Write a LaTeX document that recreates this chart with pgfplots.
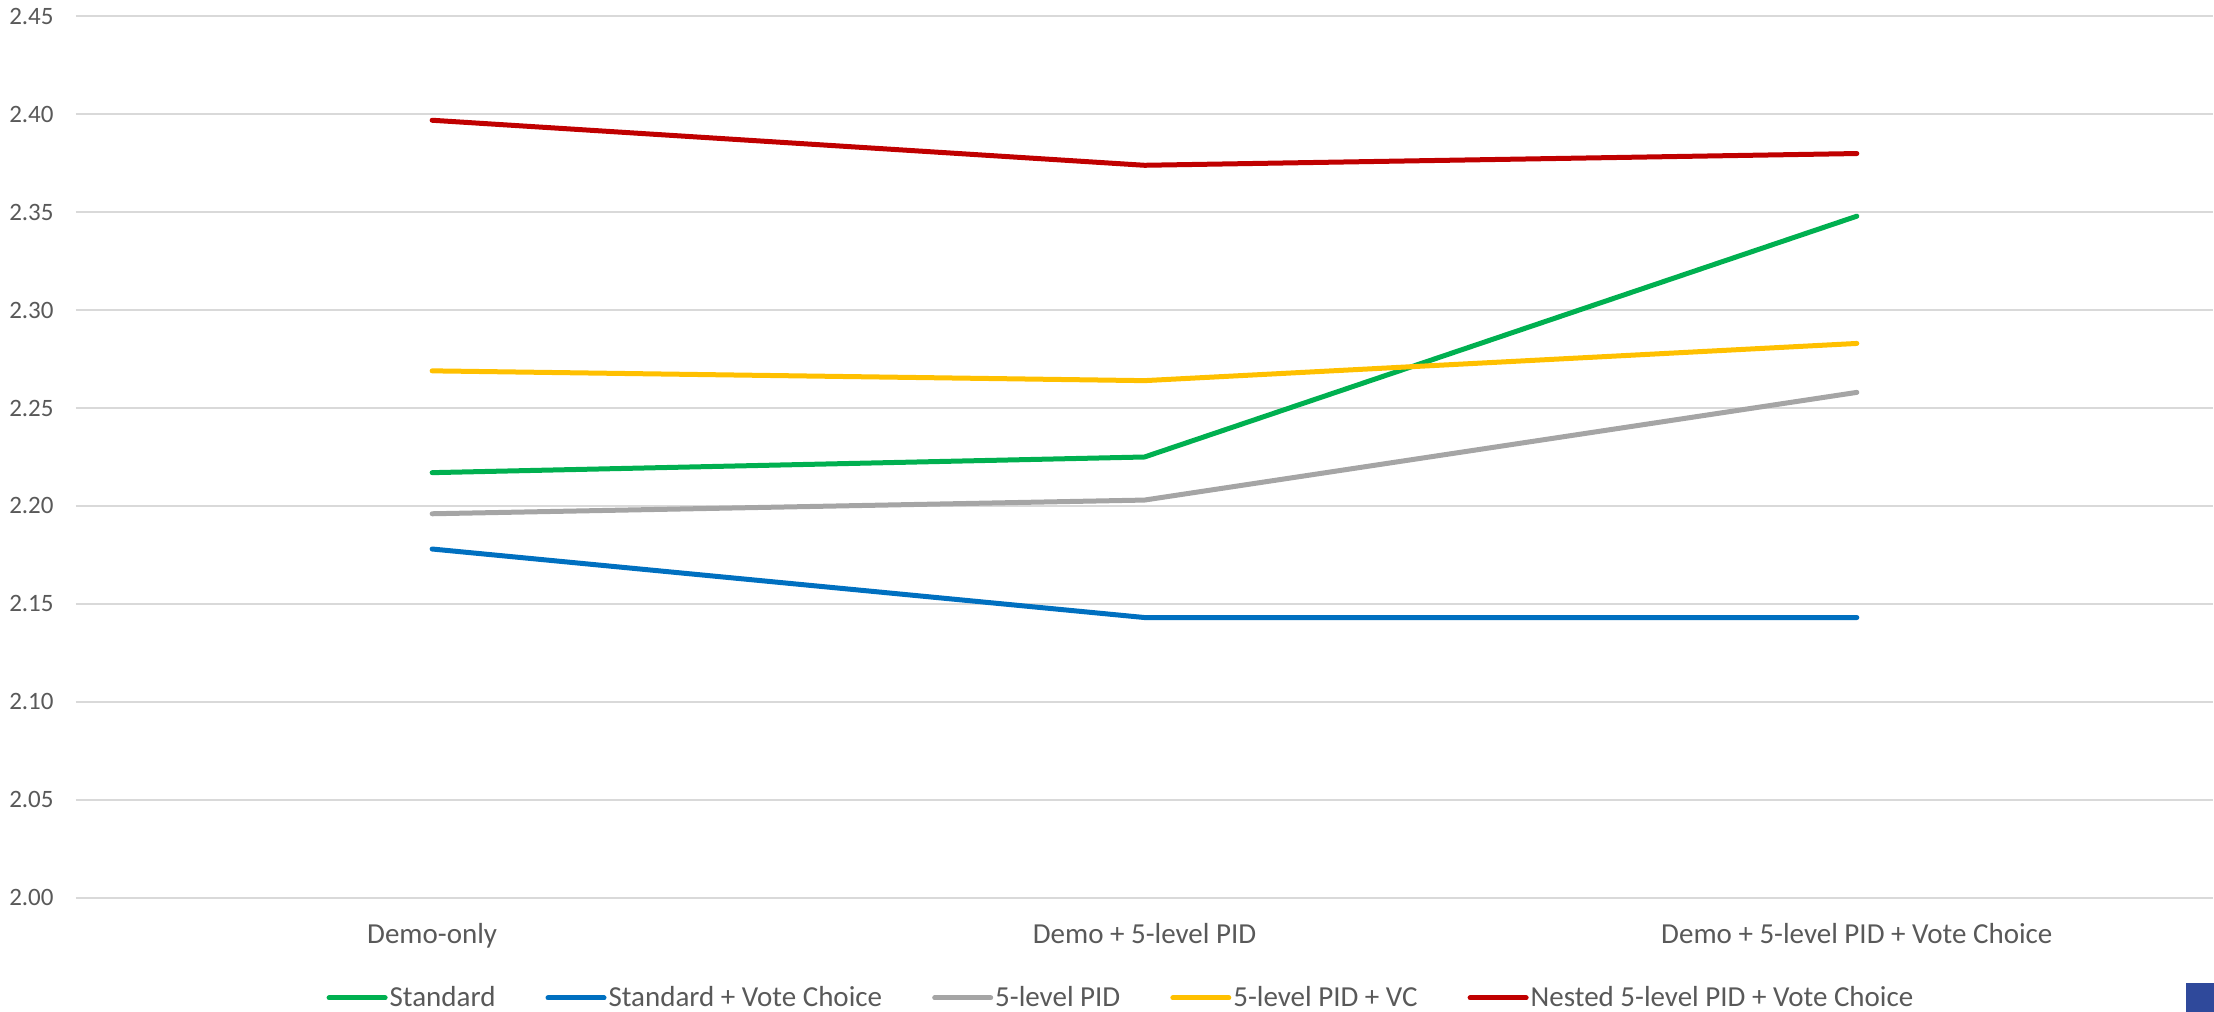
\documentclass[border=0pt]{standalone}
\usepackage{pgfplots}
\pgfplotsset{compat=1.18}
\usepackage{fontspec}
\setmainfont{Carlito}
\definecolor{cgreen}{HTML}{00B050}
\definecolor{cblue}{HTML}{0070C0}
\definecolor{cgray}{HTML}{A5A5A5}
\definecolor{cyellow}{HTML}{FFC000}
\definecolor{cred}{HTML}{C00000}
\definecolor{gridgray}{HTML}{D9D9D9}
\definecolor{textgray}{HTML}{595959}
\definecolor{cornerblue}{RGB}{47,73,155}
\begin{document}
\begin{tikzpicture}
\path[use as bounding box] (-38bp,-57.25bp) rectangle (1069bp,448.75bp);
\begin{axis}[
  at={(0,0)}, anchor=south west, scale only axis,
  width=1068.5bp, height=440.5bp,
  xmin=-0.5, xmax=2.5, ymin=2.0, ymax=2.45,
  xtick={0,1,2},
  xticklabels={Demo-only, Demo + 5-level PID, Demo + 5-level PID + Vote Choice},
  ytick={2.00,2.05,2.10,2.15,2.20,2.25,2.30,2.35,2.40,2.45},
  yticklabel style={/pgf/number format/fixed, /pgf/number format/fixed zerofill, /pgf/number format/precision=2, /pgf/number format/assume math mode=true,
    anchor=east, inner sep=0pt, xshift=-11bp, font=\fontsize{12.5bp}{15bp}\selectfont, text=textgray},
  xticklabel style={anchor=base, inner sep=0pt, yshift=-22.75bp, font=\fontsize{14.5bp}{17bp}\selectfont, text=textgray},
  axis line style={draw=none},
  major tick length=0pt,
  ymajorgrids,
  grid style={draw=gridgray, line width=1bp},
  every axis plot/.append style={line width=2.5bp, line cap=round, line join=round, mark=none},
  legend columns=5,
  legend style={draw=none, fill=none, at={(0.489,-0.114)}, anchor=center,
    font=\fontsize{14.5bp}{17bp}\selectfont, text=textgray,
    inner sep=0pt, nodes={inner sep=1bp},
    /tikz/every even column/.append style={column sep=24bp}},
  legend image code/.code={\draw[#1] (0bp,0bp) -- (28bp,0bp);},
]
\addplot[cgreen] coordinates {(0,2.217) (1,2.225) (2,2.348)};
\addlegendentry{Standard}
\addplot[cblue] coordinates {(0,2.178) (1,2.143) (2,2.143)};
\addlegendentry{Standard + Vote Choice}
\addplot[cgray] coordinates {(0,2.196) (1,2.203) (2,2.258)};
\addlegendentry{5-level PID}
\addplot[cyellow] coordinates {(0,2.269) (1,2.264) (2,2.283)};
\addlegendentry{5-level PID + VC}
\addplot[cred] coordinates {(0,2.397) (1,2.374) (2,2.380)};
\addlegendentry{Nested 5-level PID + Vote Choice}
\end{axis}
\fill[cornerblue] (1055bp,-57.25bp) rectangle (1069bp,-42.75bp);
\end{tikzpicture}
\end{document}
